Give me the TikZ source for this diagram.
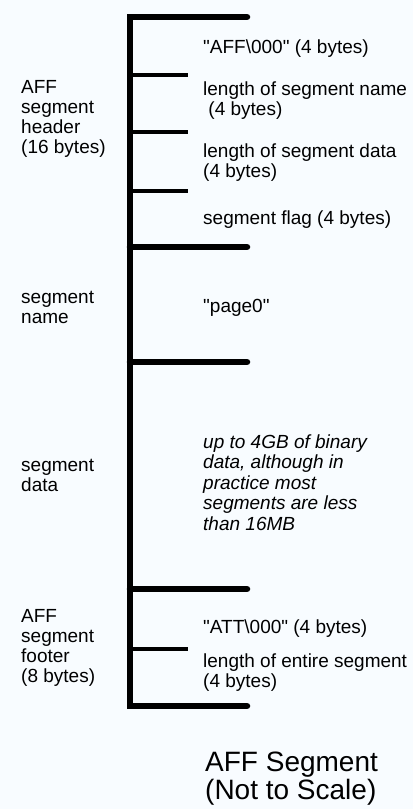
\documentclass[tikz,border=0pt]{standalone}
\usepackage{fontspec}
\setmainfont{Liberation Sans}
\definecolor{paper}{RGB}{248,252,255}
\newcommand{\bslash}{\textbackslash}
\newcommand{\dq}{\textquotedbl}

\begin{document}
\begin{tikzpicture}[x=1pt,y=-1pt,
    bar/.style = {line width=6.5pt, line cap=round, line join=miter},
    tick/.style = {line width=3.5pt},
    lbl/.style = {anchor=base west, inner sep=0pt, align=left, font=\fontsize{19}{20}\selectfont},
    field/.style = {lbl},
    title/.style = {anchor=base west, inner sep=0pt, align=left, font=\fontsize{28}{28}\selectfont}]
    \fill[paper] (0,0) rectangle (413,809);
    \useasboundingbox (0,0) rectangle (413,809);
    % spine and bars
    \foreach \n/\y in {0/17,1/247,2/362,3/589,4/706} {
        \coordinate (s\n) at (130,\y);
        \coordinate (e\n) at (247,\y);
    }
    \foreach \n/\y in {a/75,b/132,c/191,d/649} {
        \coordinate (s\n) at (130,\y);
        \coordinate (e\n) at (188,\y);
    }
    \draw[bar] (e0) -- (s0) -- (s4) -- (e4);
    \foreach \n in {1,2,3}
        \draw[bar] (s\n) -- (e\n);
    \foreach \n in {a,b,c,d}
        \draw[tick] (s\n) -- (e\n);
    % left labels (placed at the baseline of their last line)
    \node[lbl] (hdr) at (21,153) {AFF\\segment\\header\\(16 bytes)};
    \node[lbl] (nam) at (21,323) {segment\\name};
    \node[lbl] (dat) at (21,491) {segment\\data};
    \node[lbl] (ftr) at (21,682) {AFF\\segment\\footer\\(8 bytes)};
    % fields
    \node[field] (f1) at (203,53) {\dq AFF\bslash 000\dq{} (4 bytes)};
    \node[field] (f2) at (203,115) {length of segment name\\~(4 bytes)};
    \node[field] (f3) at (203,177) {length of segment data\\(4 bytes)};
    \node[field] (f4) at (203,224) {segment flag (4 bytes)};
    \node[field] (f5) at (203,312) {\dq page0\dq};
    \node[field,font=\fontsize{19}{20.5}\selectfont\itshape] (f6) at (203,530)
        {up to 4GB of binary\\data, although in\\practice most\\segments are less\\than 16MB};
    \node[field] (f7) at (203,633) {\dq ATT\bslash 000\dq{} (4 bytes)};
    \node[field] (f8) at (203,687) {length of entire segment\\(4 bytes)};
    \node[title] (ttl) at (205,799) {AFF Segment\\(Not to Scale)};
\end{tikzpicture}
\end{document}
